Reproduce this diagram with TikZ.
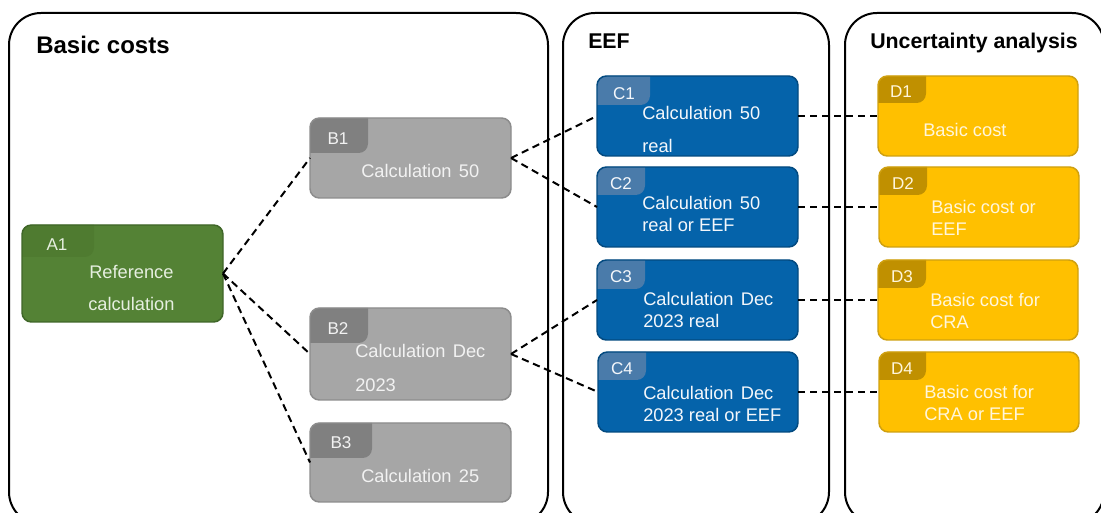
\documentclass[tikz,border=0pt]{standalone}
\usepackage{fontspec}
\setmainfont{Liberation Sans}
\usetikzlibrary{calc}

% palette
\definecolor{refFill}{HTML}{548235}
\definecolor{refLine}{HTML}{3F6628}
\definecolor{refTab}{HTML}{4F7B30}
\definecolor{refText}{HTML}{E6EFE0}
\definecolor{baseFill}{HTML}{A6A6A6}
\definecolor{baseLine}{HTML}{8C8C8C}
\definecolor{baseTab}{HTML}{808080}
\definecolor{baseText}{HTML}{F2F2F2}
\definecolor{eefFill}{HTML}{0563AA}
\definecolor{eefLine}{HTML}{034A80}
\definecolor{eefTab}{HTML}{4A7BAA}
\definecolor{eefText}{HTML}{F4F7FB}
\definecolor{uncFill}{HTML}{FFC000}
\definecolor{uncLine}{HTML}{CFA010}
\definecolor{uncTab}{HTML}{C09000}
\definecolor{uncText}{HTML}{FFF6DC}

\tikzset{
  panel/.style={draw=black, line width=1.5pt, rounded corners=24pt},
  card/.style={rectangle, rounded corners=7pt, outer sep=0pt, inner sep=0pt,
               anchor=north west, line width=1.1pt},
  ref/.style={card, fill=refFill},   refedge/.style={draw=refLine},
  reftab/.style={fill=refTab},       refword/.style={text=refText},
  base/.style={card, fill=baseFill}, baseedge/.style={draw=baseLine},
  basetab/.style={fill=baseTab},     baseword/.style={text=baseText},
  eef/.style={card, fill=eefFill},   eefedge/.style={draw=eefLine},
  eeftab/.style={fill=eefTab},       eefword/.style={text=eefText},
  unc/.style={card, fill=uncFill},   uncedge/.style={draw=uncLine},
  unctab/.style={fill=uncTab},       uncword/.style={text=uncText},
  heading/.style={font=\bfseries\fontsize{16}{19}\selectfont, anchor=base west, inner sep=0pt},
  bigheading/.style={font=\bfseries\fontsize{18}{21}\selectfont, anchor=base west, inner sep=0pt},
  line/.style={font=\fontsize{13.7}{16}\selectfont, anchor=base west, inner sep=0pt},
  tabtext/.style={font=\fontsize{12.8}{15}\selectfont, inner sep=0pt},
  link/.style={draw=black, line width=1.5pt, dash pattern=on 5.5pt off 3.5pt},
}

% #1 name, #2 x0, #3 y0, #4 x1, #5 y1, #6 tab right, #7 tab bottom, #8 kind
\newcommand\stagecard[8]{%
  \node[#8, minimum width={(#4-#2)*0.75pt}, minimum height={(#5-#3)*0.75pt}] (#1) at (#2,#3) {};
  \begin{scope}
    \clip[rounded corners=7pt] (#1.north west) rectangle (#1.south east);
    \fill[#8tab, rounded corners=7pt] ($(#1.north west)+(-12,-12)$) rectangle (#6,#7);
  \end{scope}
  \draw[#8edge, line width=1.1pt, rounded corners=7pt] (#1.north west) rectangle (#1.south east);
}

\begin{document}
\begin{tikzpicture}[x=0.75pt, y=-0.75pt]
\useasboundingbox (0,0) rectangle (1101,513);
\fill[white] (0,0) rectangle (1101,513);
\begin{scope}
\clip (0,0) rectangle (1101,513);

% panels
\draw[panel] (9,13) rectangle (548,524);
\draw[panel] (563,13) rectangle (829,524);
\draw[panel] (845,13) rectangle (1104,524);
\node[bigheading] (tBasic) at (36,54) {Basic costs};
\node[heading] (tEEF) at (588,49) {EEF};
\node[heading] (tUnc) at (870,49) {Uncertainty analysis};

% cards
\stagecard{A1}{22}{225}{223}{322}{94}{257}{ref}
\stagecard{B1}{310}{118}{511}{198}{368}{153}{base}
\stagecard{B2}{310}{308}{511}{400}{368}{343}{base}
\stagecard{B3}{310}{423}{511}{502}{372}{458}{base}
\stagecard{C1}{597}{76}{798}{156}{650}{105}{eef}
\stagecard{C2}{597}{167}{798}{247}{645}{195}{eef}
\stagecard{C3}{597}{260}{798}{340}{645}{289}{eef}
\stagecard{C4}{598}{352}{798}{432}{646}{380}{eef}
\stagecard{D1}{878}{76}{1078}{156}{926}{103}{unc}
\stagecard{D2}{879}{167}{1079}{247}{927}{195}{unc}
\stagecard{D3}{878}{260}{1078}{340}{926}{288}{unc}
\stagecard{D4}{879}{352}{1079}{432}{926}{380}{unc}

% tab labels
\node[tabtext, refword]  (A1k) at (57,245)    {A1};
\node[tabtext, baseword] (B1k) at (338,138.5) {B1};
\node[tabtext, baseword] (B2k) at (338,329)   {B2};
\node[tabtext, baseword] (B3k) at (341,442.5) {B3};
\node[tabtext, eefword]  (C1k) at (624,94)    {C1};
\node[tabtext, eefword]  (C2k) at (621,184)   {C2};
\node[tabtext, eefword]  (C3k) at (621,277)   {C3};
\node[tabtext, eefword]  (C4k) at (622,369)   {C4};
\node[tabtext, uncword]  (D1k) at (901,91.5)  {D1};
\node[tabtext, uncword]  (D2k) at (903,183.5) {D2};
\node[tabtext, uncword]  (D3k) at (902,277)   {D3};
\node[tabtext, uncword]  (D4k) at (902,369)   {D4};

% card texts
\node[line, refword] (A1a) at (89,279) {Reference};
\node[line, refword] (A1b) at (88,311) {calculation};
\node[line, baseword] (B1a) at (361,178) {Calculation\hspace{0.12em} 50};
\node[line, baseword] (B2a) at (355,358) {Calculation\hspace{0.12em} Dec};
\node[line, baseword] (B2b) at (355,392) {2023};
\node[line, baseword] (B3a) at (361,483) {Calculation\hspace{0.12em} 25};
\node[line, eefword] (C1a) at (642,120) {Calculation\hspace{0.12em} 50};
\node[line, eefword] (C1b) at (642,153) {real};
\node[line, eefword] (C2a) at (642,210) {Calculation\hspace{0.12em} 50};
\node[line, eefword] (C2b) at (642,232) {real or EEF};
\node[line, eefword] (C3a) at (643,306) {Calculation\hspace{0.12em} Dec};
\node[line, eefword] (C3b) at (643,328) {2023 real};
\node[line, eefword] (C4a) at (643,400) {Calculation\hspace{0.12em} Dec};
\node[line, eefword] (C4b) at (643,422) {2023 real or EEF};
\node[line, uncword] (D1a) at (923,137) {Basic cost};
\node[line, uncword] (D2a) at (931,214) {Basic cost or};
\node[line, uncword] (D2b) at (931,236) {EEF};
\node[line, uncword] (D3a) at (930,307) {Basic cost for};
\node[line, uncword] (D3b) at (930,329) {CRA};
\node[line, uncword] (D4a) at (924,399) {Basic cost for};
\node[line, uncword] (D4b) at (924,421) {CRA or EEF};

% dashed connectors
\draw[link] (A1.east) -- (B1.west);
\draw[link] (A1.east) -- (B2.west);
\draw[link] (A1.east) -- (B3.west);
\draw[link] (B1.east) -- (C1.west);
\draw[link] (B1.east) -- (C2.west);
\draw[link] (B2.east) -- (C3.west);
\draw[link] (B2.east) -- (C4.west);
\draw[link] (C1.east) -- (D1.west);
\draw[link] (C2.east) -- (D2.west);
\draw[link] (C3.east) -- (D3.west);
\draw[link] (C4.east) -- (D4.west);
\end{scope}
\end{tikzpicture}
\end{document}
